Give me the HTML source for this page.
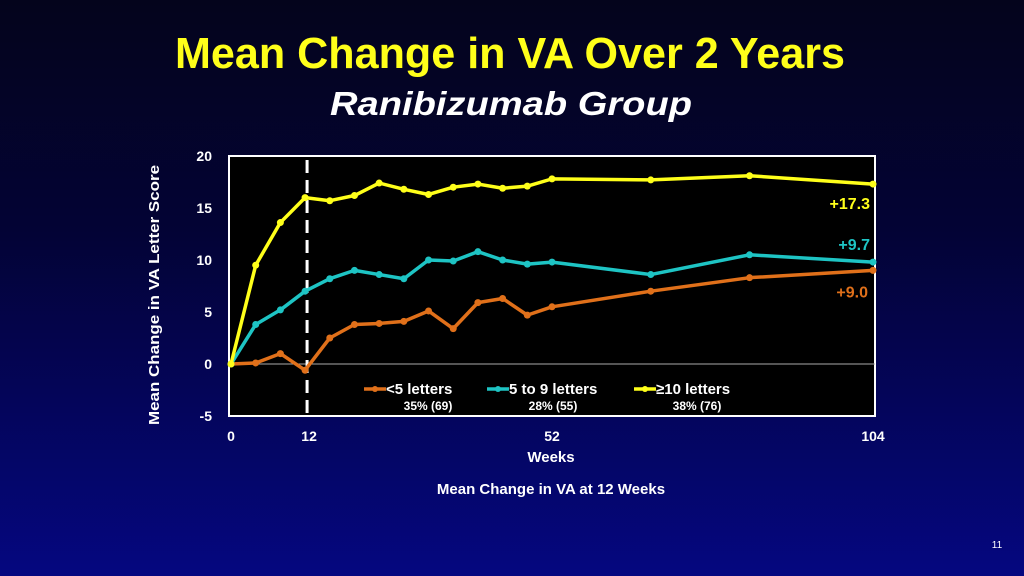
<!DOCTYPE html>
<html><head><meta charset="utf-8"><style>
html,body{margin:0;padding:0;width:1024px;height:576px;overflow:hidden;background:linear-gradient(#04041c 0%,#030335 40%,#050780 100%);font-family:"Liberation Sans",sans-serif;}
svg{position:absolute;left:0;top:0}
</style></head><body>
<svg width="1024" height="576">
<text x="510" y="68" text-anchor="middle" fill="#ffff1a" font-size="44" font-weight="bold" textLength="670" lengthAdjust="spacingAndGlyphs">Mean Change in VA Over 2 Years</text>
<text x="511" y="115" text-anchor="middle" fill="#fff" font-size="33" font-weight="bold" font-style="italic" textLength="362" lengthAdjust="spacingAndGlyphs">Ranibizumab Group</text>
<rect x="229" y="156" width="646" height="260" fill="#000" stroke="#fff" stroke-width="2"/>
<g id="g"></g>
<text x="159" y="295" transform="rotate(-90 159 295)" text-anchor="middle" fill="#fff" font-size="15" font-weight="bold" textLength="260" lengthAdjust="spacingAndGlyphs">Mean Change in VA Letter Score</text>
<text x="551" y="462" text-anchor="middle" fill="#fff" font-size="15" font-weight="bold">Weeks</text>
<text x="551" y="494" text-anchor="middle" fill="#fff" font-size="15" font-weight="bold">Mean Change in VA at 12 Weeks</text>
<text x="997" y="548" text-anchor="middle" fill="#fff" font-size="10">11</text>
</svg>
<script>
const weeks=[0,4,8,12,16,20,24,28,32,36,40,44,48,52,68,84,104];
const lowVals=[0,0.1,1.0,-0.6,2.5,3.8,3.9,4.1,5.1,3.4,5.9,6.3,4.7,5.5,7.0,8.3,9.0];
const midVals=[0,3.8,5.2,7.0,8.2,9.0,8.6,8.2,10.0,9.9,10.8,10.0,9.6,9.8,8.6,10.5,9.8];
const highVals=[0,9.5,13.6,16.0,15.7,16.2,17.4,16.8,16.3,17.0,17.3,16.9,17.1,17.8,17.7,18.1,17.3];
const yTicks=[20,15,10,5,0,-5];
const xTicks=[0,12,52,104];
const seriesNames=['<5 letters','5 to 9 letters','≥10 letters'];
const seriesPct=['35% (69)','28% (55)','38% (76)'];
const endLabels=['+9.0','+9.7','+17.3'];
const NS='http://www.w3.org/2000/svg';
const g=document.getElementById('g');
const X=w=>231+w*(642/104);
const Y=v=>364-v*10.4;
function el(t,a){const e=document.createElementNS(NS,t);for(const k in a)e.setAttribute(k,a[k]);g.appendChild(e);return e;}
let e=el('line',{x1:229,x2:875,y1:Y(0),y2:Y(0),stroke:'#aaa','stroke-width':1});


e=el('line',{x1:X(12)+2,x2:X(12)+2,y1:160,y2:416,stroke:'#fff','stroke-width':3,'stroke-dasharray':'13,7'});


yTicks.forEach(v=>{const t=el('text',{x:212,y:Y(v)+5,'text-anchor':'end',fill:'#fff','font-size':14,'font-weight':'bold'});t.textContent=v;

});
xTicks.forEach(w=>{const t=el('text',{x:X(w)+(w==12?4:0),y:441,'text-anchor':'middle',fill:'#fff','font-size':14,'font-weight':'bold'});t.textContent=w;

});
const colors=['#e0701a','#1ec4c4','#ffff1a'];
const data=[lowVals,midVals,highVals];
const lblY=[Y(9.0)+27,Y(9.7)-13,Y(17.3)+25];
const lblX=[868,870,870];
data.forEach((vals,i)=>{
 const p=el('polyline',{points:vals.map((v,j)=>X(weeks[j])+','+Y(v)).join(' '),fill:'none',stroke:colors[i],'stroke-width':3.5,'stroke-linejoin':'round'});
 
 
 vals.forEach((v,j)=>{const c=el('circle',{cx:X(weeks[j]),cy:Y(v),r:3.5,fill:colors[i]});
 
 });
 const t=el('text',{x:lblX[i],y:lblY[i],'text-anchor':'end',fill:colors[i],'font-size':16,'font-weight':'bold'});t.textContent=endLabels[i];
 
 
 const lx=[364,487,634][i];
 const ln=el('line',{x1:lx,x2:lx+22,y1:389,y2:389,stroke:colors[i],'stroke-width':3.5});
 
 
 const lc=el('circle',{cx:lx+11,cy:389,r:3,fill:colors[i]});
 
 
 const lt=el('text',{x:lx+22,y:394,fill:'#fff','font-size':15,'font-weight':'bold'});lt.textContent=seriesNames[i];
 
 
 const lp=el('text',{x:[428,553,697][i],y:410,'text-anchor':'middle',fill:'#fff','font-size':12,'font-weight':'bold'});lp.textContent=seriesPct[i];
 
 
});
</script>
</body></html>
